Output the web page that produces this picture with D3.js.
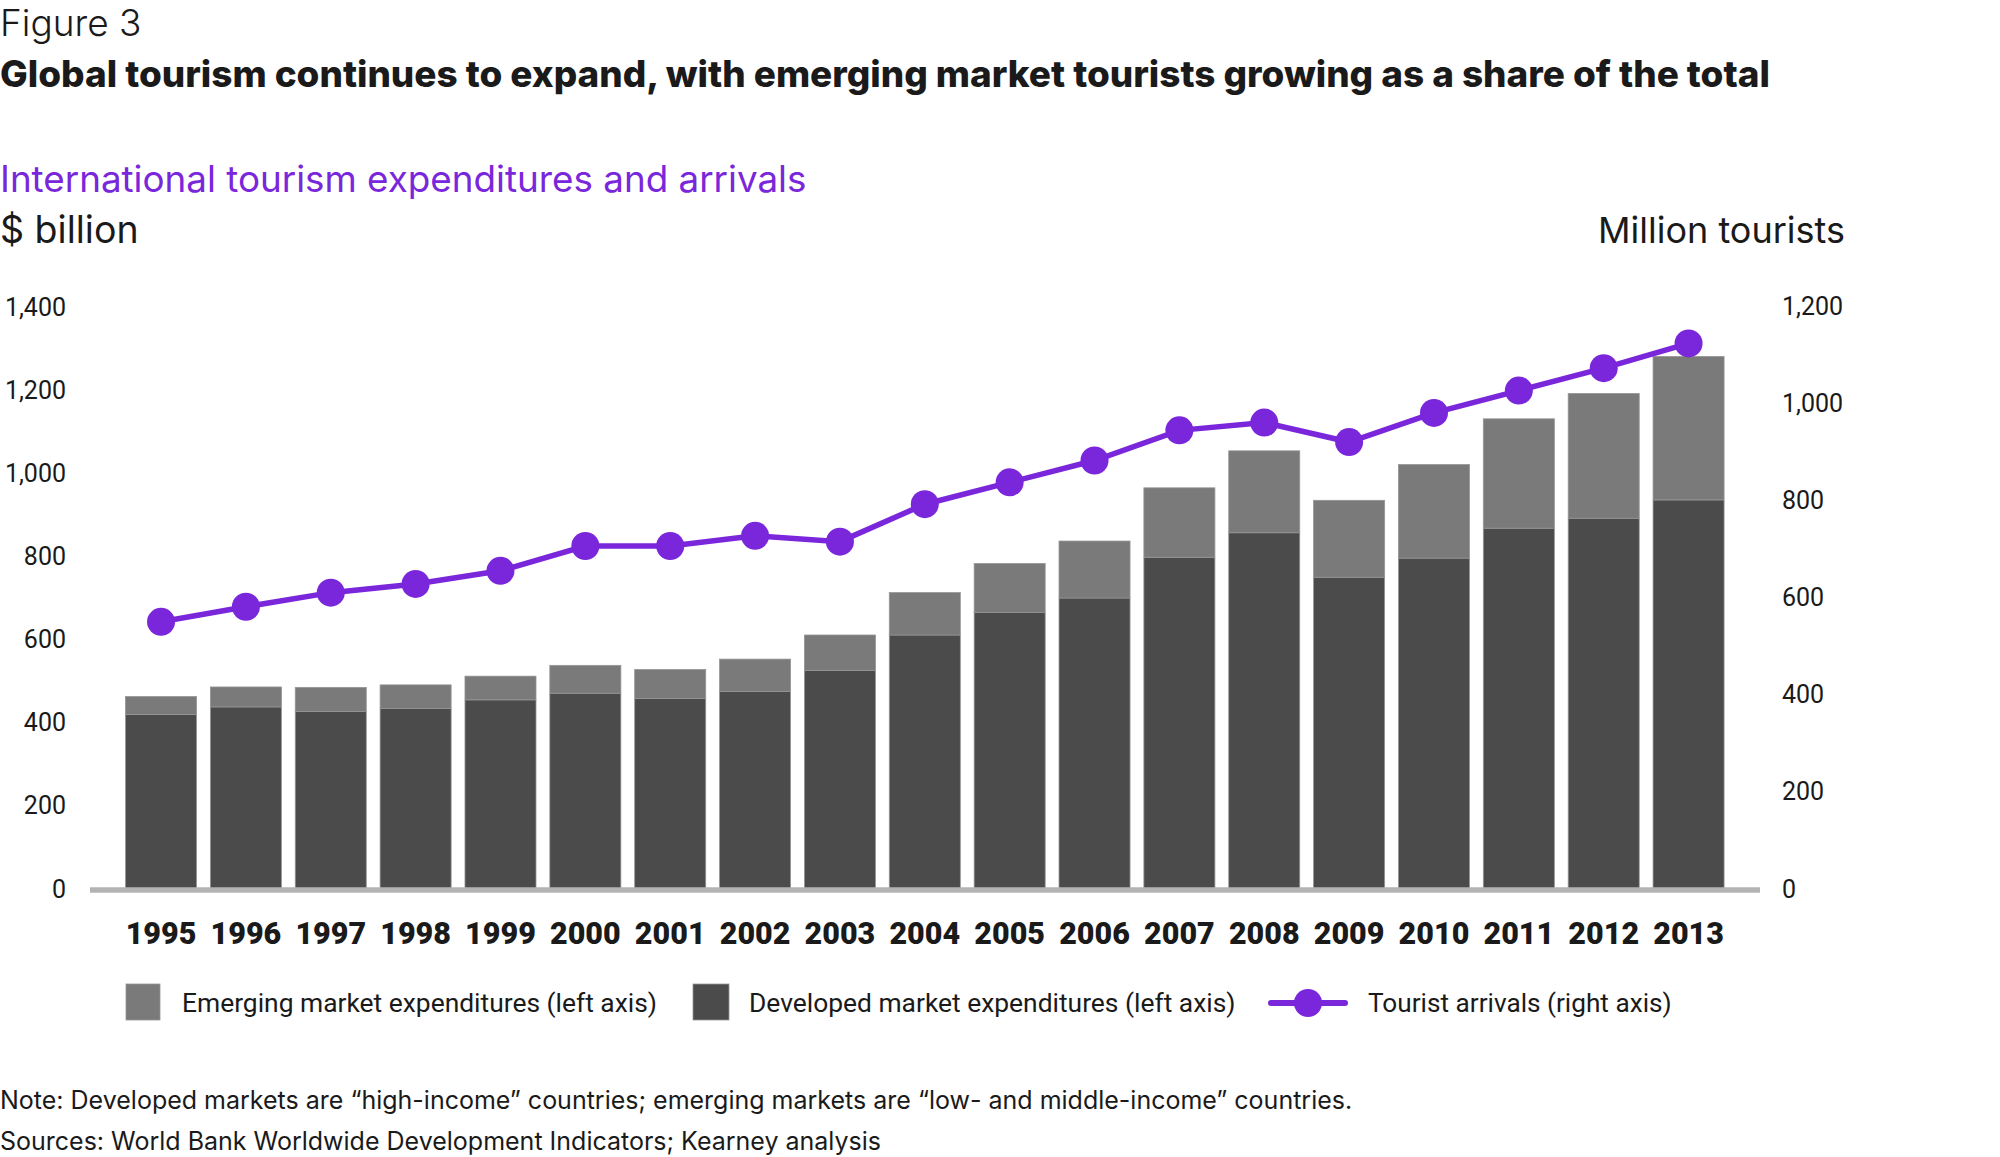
<!DOCTYPE html>
<html lang="en">
<head>
<meta charset="utf-8">
<title>Global tourism</title>
<script src="https://cdn.jsdelivr.net/npm/d3@7"></script>
<style>
  body { margin: 0; background: #fff; }
  svg text { font-family: Roboto, "Noto Sans", sans-serif; fill: #1a1a1a; }
  svg text.head { font-family: Inter, Roboto, sans-serif; }
</style>
</head>
<body>
<script>
// years on the x axis
var years = ["1995","1996","1997","1998","1999","2000","2001","2002","2003","2004",
             "2005","2006","2007","2008","2009","2010","2011","2012","2013"];
// $ billion, left axis
var developed = [420,438,427,434,455,471,458,475,526,611,665,700,798,857,750,796,868,892,936];
var emerging  = [43,48,58,57,57,67,70,78,85,102,118,137,167,197,185,225,263,300,345];
// million tourists, right axis
var arrivals  = [550,581,610,628,655,706,706,727,715,792,837,882,944,960,920,980,1026,1072,1123];

var leftTicks = [0,200,400,600,800,1000,1200,1400];
var rightTicks = [0,200,400,600,800,1000,1200];

var purple = "#7a26db",
    darkGrey = "#4b4b4b",
    midGrey = "#7a7a7a";

var width = 2000, height = 1157;

var svg = d3.select("body").append("svg")
    .attr("width", width)
    .attr("height", height);

// scales
var x = d3.scaleBand()
    .domain(years)
    .range([118.6, 1731])
    .paddingInner(0.163)
    .paddingOuter(0.0815);

var yLeft = d3.scaleLinear().domain([0, 1400]).range([889, 307]);
var yRight = d3.scaleLinear().domain([0, 1200]).range([889, 306]);

// headings
svg.append("text").attr("class", "head").attr("x", 0).attr("y", 36)
    .style("font-size", "37px").style("font-weight", 300).text("Figure 3");
svg.append("text").attr("class", "head").attr("x", 0).attr("y", 87)
    .style("font-size", "36.9px").style("font-weight", 800)
    .text("Global tourism continues to expand, with emerging market tourists growing as a share of the total");
svg.append("text").attr("class", "head").attr("x", 0).attr("y", 192)
    .style("font-size", "36.8px").style("fill", purple)
    .text("International tourism expenditures and arrivals");
svg.append("text").attr("class", "head").attr("x", 0).attr("y", 243)
    .style("font-size", "37.5px").text("$ billion");
svg.append("text").attr("class", "head").attr("x", 1845).attr("y", 243)
    .attr("text-anchor", "end")
    .style("font-size", "36px").text("Million tourists");

// stacked bars
var rows = years.map(function(d, i) {
    return { year: d, developed: developed[i], emerging: emerging[i] };
});
var stack = d3.stack().keys(["developed", "emerging"])(rows);
var colors = { developed: darkGrey, emerging: midGrey };

svg.append("g").selectAll("g")
    .data(stack)
    .enter().append("g")
    .attr("fill", function(d) { return colors[d.key]; })
    .selectAll("rect")
    .data(function(d) { return d; })
    .enter().append("rect")
    .attr("x", function(d) { return x(d.data.year); })
    .attr("y", function(d) { return yLeft(d[1]); })
    .attr("width", x.bandwidth())
    .attr("height", function(d) { return yLeft(d[0]) - yLeft(d[1]); })
    .attr("stroke", "#959595")
    .attr("stroke-width", 0.8);

// baseline
svg.append("line")
    .attr("x1", 90).attr("x2", 1760)
    .attr("y1", yLeft(0) + 1).attr("y2", yLeft(0) + 1)
    .attr("stroke", "#b3b3b3")
    .attr("stroke-width", 5.5);

// left axis
var leftAxis = svg.append("g")
    .attr("transform", "translate(66,0)")
    .call(d3.axisLeft(yLeft).tickValues(leftTicks).tickSize(0).tickPadding(0).tickFormat(d3.format(",")));
// right axis
var rightAxis = svg.append("g")
    .attr("transform", "translate(1782,0)")
    .call(d3.axisRight(yRight).tickValues(rightTicks).tickSize(0).tickPadding(0).tickFormat(d3.format(",")));
[leftAxis, rightAxis].forEach(function(a) {
    a.select(".domain").remove();
    a.selectAll("text").style("font-size", "25px").style("font-family", null).attr("fill", "#1a1a1a");
});

// x axis
var xAxis = svg.append("g")
    .attr("transform", "translate(0," + yLeft(0) + ")")
    .call(d3.axisBottom(x).tickSize(0).tickPadding(33));
xAxis.select(".domain").remove();
xAxis.selectAll("text")
    .style("font-size", "30.5px").style("font-weight", 900)
    .style("font-family", null).attr("fill", "#1a1a1a");

// arrivals line
var line = d3.line()
    .x(function(d, i) { return x(years[i]) + x.bandwidth() / 2; })
    .y(function(d) { return yRight(d); });

svg.append("path")
    .datum(arrivals)
    .attr("d", line)
    .attr("fill", "none")
    .attr("stroke", purple)
    .attr("stroke-width", 5.5);

svg.append("g").selectAll("circle")
    .data(arrivals)
    .enter().append("circle")
    .attr("cx", function(d, i) { return x(years[i]) + x.bandwidth() / 2; })
    .attr("cy", function(d) { return yRight(d); })
    .attr("r", 14)
    .attr("fill", purple);

// legend
var legend = svg.append("g");
legend.append("rect").attr("x", 126).attr("y", 984).attr("width", 34).attr("height", 36)
    .attr("fill", midGrey).attr("stroke", "#959595").attr("stroke-width", 0.8);
legend.append("text").attr("x", 182).attr("y", 1003).attr("dy", "0.35em")
    .style("font-size", "26.4px").text("Emerging market expenditures (left axis)");
legend.append("rect").attr("x", 693).attr("y", 984).attr("width", 36).attr("height", 36)
    .attr("fill", darkGrey).attr("stroke", "#959595").attr("stroke-width", 0.8);
legend.append("text").attr("x", 749).attr("y", 1003).attr("dy", "0.35em")
    .style("font-size", "26.4px").text("Developed market expenditures (left axis)");
legend.append("line").attr("x1", 1271).attr("x2", 1345).attr("y1", 1003).attr("y2", 1003)
    .attr("stroke", purple).attr("stroke-width", 6).attr("stroke-linecap", "round");
legend.append("circle").attr("cx", 1308).attr("cy", 1003).attr("r", 14).attr("fill", purple);
legend.append("text").attr("x", 1368).attr("y", 1003).attr("dy", "0.35em")
    .style("font-size", "26.2px").text("Tourist arrivals (right axis)");

// notes
svg.append("text").attr("class", "head").attr("x", 0).attr("y", 1109)
    .style("font-size", "25px")
    .text("Note: Developed markets are \u201chigh-income\u201d countries; emerging markets are \u201clow- and middle-income\u201d countries.");
svg.append("text").attr("class", "head").attr("x", 0).attr("y", 1150)
    .style("font-size", "25px")
    .text("Sources: World Bank Worldwide Development Indicators; Kearney analysis");
</script>
</body>
</html>
